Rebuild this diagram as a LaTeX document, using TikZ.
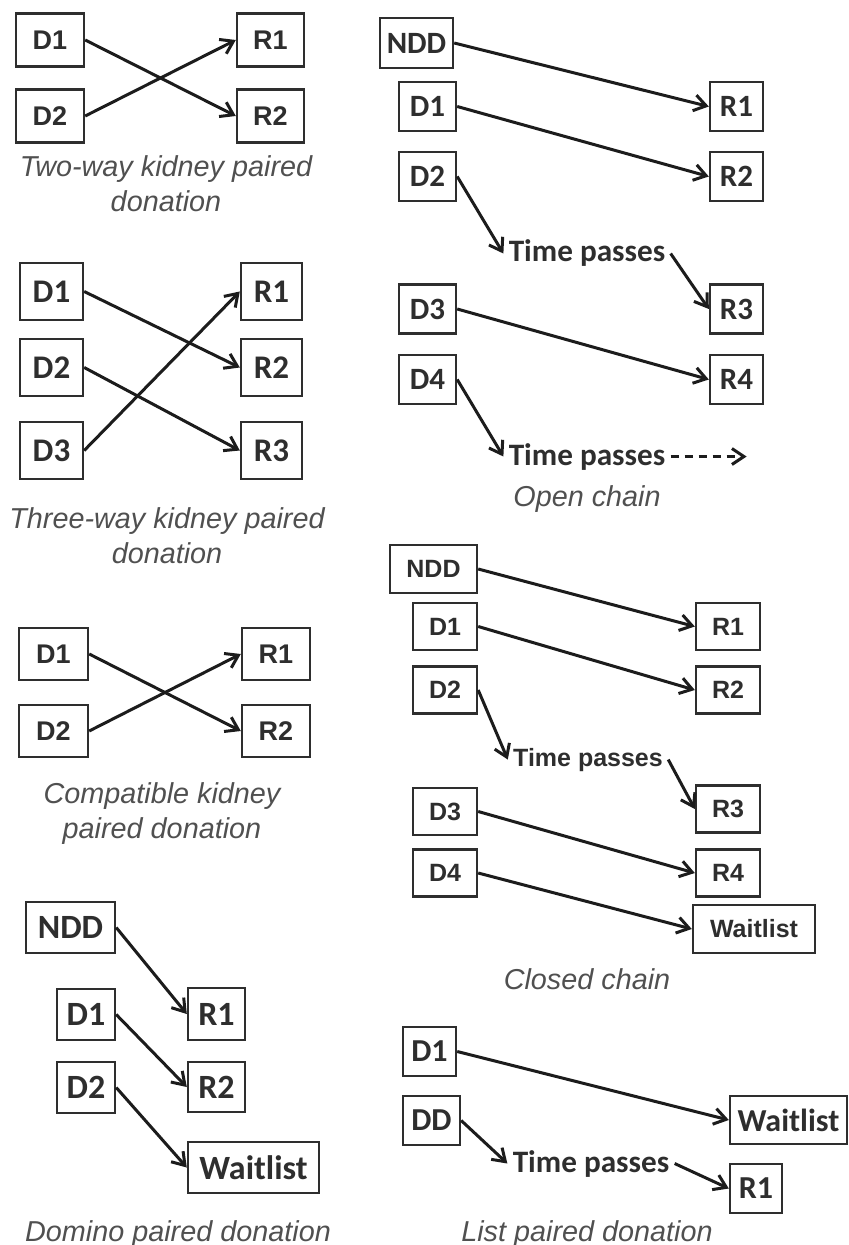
\documentclass[tikz,border=0pt]{standalone}
\usepackage{fontspec}
\usepackage{xcolor}
\usepackage{tikz}
\usetikzlibrary{arrows.meta,positioning}

\newfontfamily\boxfont{Carlito}
\newfontfamily\capfont{Liberation Sans}
\definecolor{capgray}{HTML}{505050}
\definecolor{boxgray}{HTML}{2E2E2E}
\definecolor{arrowgray}{HTML}{1C1C1C}

\begin{document}
\begin{tikzpicture}[x=0.5pt, y=-0.5pt,
    pbox/.style 2 args={draw=boxgray, line width=1.2pt, minimum width=#1, minimum height=#2,
        inner sep=0pt, text=boxgray},
    afont/.style={font=\capfont\bfseries\fontsize{#1}{#1}\selectfont},
    cfont/.style={font=\boxfont\bfseries\fontsize{#1}{#1}\selectfont},
    tp/.style={anchor=base, inner sep=2.5pt, text=boxgray, cfont=15.6pt},
    captext/.style={anchor=north, inner sep=0pt, align=center, text=capgray,
        font=\capfont\itshape\fontsize{14.4pt}{17.5pt}\selectfont},
    link/.style={draw=arrowgray, line width=1.5pt, -{Straight Barb[length=6pt,width=8pt]}}]
    \useasboundingbox (0,0) rectangle (849,1245);

    % Two-way
    \begin{scope}[every node/.append style={afont=13.5pt}]
    \node[pbox={34pt}{26.5pt}] (twD1) at (50,40) {D1};
    \node[pbox={34pt}{26.5pt}] (twD2) at (50,116) {D2};
    \node[pbox={33.5pt}{26.5pt}] (twR1) at (270.5,40) {R1};
    \node[pbox={33.5pt}{26.5pt}] (twR2) at (270.5,116) {R2};
    \node[captext] (twCap) at (166,155) {Two-way kidney paired\\donation};
    \draw[link] (twD1.east) -- (twR2.west);
    \draw[link] (twD2.east) -- (twR1.west);
    \end{scope}

    % Three-way
    \begin{scope}[every node/.append style={cfont=16.5pt}]
    \node[pbox={31.5pt}{28.5pt}] (thD1) at (51.5,291.5) {D1};
    \node[pbox={31.5pt}{28.5pt}] (thD2) at (51.5,367.5) {D2};
    \node[pbox={31.5pt}{28.5pt}] (thD3) at (51.5,450.5) {D3};
    \node[pbox={30.5pt}{28.5pt}] (thR1) at (271.5,291.5) {R1};
    \node[pbox={30.5pt}{28.5pt}] (thR2) at (271.5,367.5) {R2};
    \node[pbox={30.5pt}{28.5pt}] (thR3) at (271.5,450.5) {R3};
    \node[captext] (thCap) at (167,507) {Three-way kidney paired\\donation};
    \draw[link] (thD1.east) -- (thR2.west);
    \draw[link] (thD2.east) -- (thR3.west);
    \draw[link] (thD3.east) -- (thR1.west);
    \end{scope}

    % Compatible
    \begin{scope}[every node/.append style={afont=13.5pt}]
    \node[pbox={34.5pt}{26pt}] (cpD1) at (53.5,654) {D1};
    \node[pbox={34.5pt}{26pt}] (cpD2) at (53.5,731) {D2};
    \node[pbox={34pt}{26pt}] (cpR1) at (276,654) {R1};
    \node[pbox={34pt}{26pt}] (cpR2) at (276,731) {R2};
    \node[captext] (cpCap) at (162,782) {Compatible kidney\\paired donation};
    \draw[link] (cpD1.east) -- (cpR2.west);
    \draw[link] (cpD2.east) -- (cpR1.west);
    \end{scope}

    % Domino
    \begin{scope}[every node/.append style={cfont=17pt}]
    \node[pbox={44.5pt}{25.5pt}] (doNDD) at (70.5,927.5) {NDD};
    \node[pbox={29pt}{25.5pt}] (doD1) at (86,1014.5) {D1};
    \node[pbox={29pt}{25.5pt}] (doD2) at (86,1087.5) {D2};
    \node[pbox={28.5pt}{26pt}] (doR1) at (216.5,1014) {R1};
    \node[pbox={28.5pt}{25pt}] (doR2) at (216.5,1087) {R2};
    \node[pbox={65.5pt}{25.5pt}] (doWait) at (253.5,1167.5) {Waitlist};
    \node[captext] (doCap) at (178,1220) {Domino paired donation};
    \draw[link] (doNDD.east) -- (doR1.west);
    \draw[link] (doD1.east) -- (doR2.west);
    \draw[link] (doD2.east) -- (doWait.west);
    \end{scope}

    % Open chain
    \begin{scope}[every node/.append style={cfont=15.5pt}]
    \node[pbox={36.5pt}{25pt}] (opNDD) at (416.5,43) {NDD};
    \node[pbox={28.5pt}{24.5pt}] (opD1) at (427.5,106.5) {D1};
    \node[pbox={28.5pt}{24.5pt}] (opD2) at (427.5,176.5) {D2};
    \node[pbox={28.5pt}{24.5pt}] (opD3) at (427.5,309) {D3};
    \node[pbox={28.5pt}{24.5pt}] (opD4) at (427.5,379.5) {D4};
    \node[pbox={26.5pt}{24.5pt}] (opR1) at (736.5,106.5) {R1};
    \node[pbox={26.5pt}{24.5pt}] (opR2) at (736.5,176.5) {R2};
    \node[pbox={26.5pt}{24.5pt}] (opR3) at (736.5,309) {R3};
    \node[pbox={26.5pt}{24.5pt}] (opR4) at (736.5,379.5) {R4};
    \node[tp] (opTP1) at (587,262) {Time passes};
    \node[tp] (opTP2) at (587,465) {Time passes};
    \coordinate[right=38pt of opTP2] (opEnd);
    \node[captext] (opCap) at (587,485) {Open chain};
    \draw[link] (opNDD.east) -- (opR1.west);
    \draw[link] (opD1.east) -- (opR2.west);
    \draw[link] (opD2.east) -- (opTP1.west);
    \draw[link] (opTP1.east) -- (opR3.west);
    \draw[link] (opD3.east) -- (opR4.west);
    \draw[link] (opD4.east) -- (opTP2.west);
    \draw[link, dash pattern=on 4pt off 3pt] (opTP2.east) -- (opEnd);
    \end{scope}

    % Closed chain
    \begin{scope}[every node/.append style={afont=12.5pt}]
    \node[pbox={43.5pt}{24pt}] (clNDD) at (433.5,569) {NDD};
    \node[pbox={32pt}{23.5pt}] (clD1) at (445,626.5) {D1};
    \node[pbox={32pt}{23.5pt}] (clD2) at (445,690) {D2};
    \node[pbox={32pt}{23.5pt}] (clD3) at (445,811.5) {D3};
    \node[pbox={32pt}{23.5pt}] (clD4) at (445,873) {D4};
    \node[pbox={32pt}{23.5pt}] (clR1) at (728,626.5) {R1};
    \node[pbox={32pt}{23.5pt}] (clR2) at (728,690) {R2};
    \node[pbox={32pt}{23.5pt}] (clR3) at (728,809) {R3};
    \node[pbox={32pt}{23.5pt}] (clR4) at (728,873) {R4};
    \node[pbox={61pt}{24pt}] (clWait) at (754,929) {Waitlist};
    \node[tp, afont=12.5pt] (clTP) at (588,766) {Time passes};
    \node[captext] (clCap) at (587,968) {Closed chain};
    \draw[link] (clNDD.east) -- (clR1.west);
    \draw[link] (clD1.east) -- (clR2.west);
    \draw[link] (clD2.east) -- (clTP.west);
    \draw[link] (clTP.east) -- (clR3.west);
    \draw[link] (clD3.east) -- (clR4.west);
    \draw[link] (clD4.east) -- (clWait.west);
    \end{scope}

    % List paired
    \begin{scope}[every node/.append style={cfont=16pt}]
    \node[pbox={26.5pt}{24.5pt}] (liD1) at (429.5,1051.5) {D1};
    \node[pbox={28.5pt}{24.5pt}] (liDD) at (431.5,1120.5) {DD};
    \node[pbox={58.5pt}{24pt}] (liWait) at (788.5,1120) {Waitlist};
    \node[pbox={26pt}{24.5pt}] (liR1) at (756,1188.5) {R1};
    \node[tp] (liTP) at (591,1172) {Time passes};
    \node[captext] (liCap) at (587,1220) {List paired donation};
    \draw[link] (liD1.east) -- (liWait.west);
    \draw[link] (liDD.east) -- (liTP.west);
    \draw[link] (liTP.east) -- (liR1.west);
    \end{scope}
\end{tikzpicture}
\end{document}
